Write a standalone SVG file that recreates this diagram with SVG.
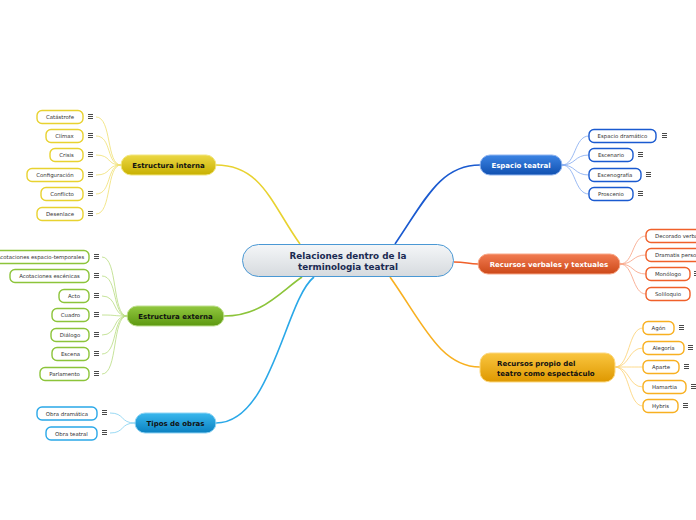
<svg xmlns="http://www.w3.org/2000/svg" width="696" height="520" viewBox="0 0 696 520">
<style>
.mt{font-family:"DejaVu Sans",Verdana,sans-serif;font-weight:bold;font-size:7px;text-anchor:middle}
.mtl{font-family:"DejaVu Sans",Verdana,sans-serif;font-weight:bold;font-size:7px;text-anchor:start}
.cen{font-family:"DejaVu Sans",Verdana,sans-serif;font-weight:bold;font-size:8.8px;text-anchor:middle;fill:#1a2a52}
.ct{font-family:"DejaVu Sans",Verdana,sans-serif;font-size:5.4px;fill:#333;text-anchor:middle}
.ctl{font-family:"DejaVu Sans",Verdana,sans-serif;font-size:5.4px;fill:#333;text-anchor:start}
.ch{fill:#fff;stroke-width:1.4}
.ic{fill:#4a4a4a}
.cn{fill:none;stroke-width:0.8}
.mc{fill:none;stroke-width:1.6}
.y{stroke:#e8d230}.g{stroke:#8cc43a}.lb{stroke:#2aa8e8}.db{stroke:#1a5ad0}.r{stroke:#f0602a}.o{stroke:#f8b020}
.yl{stroke:#f0e070}.gl{stroke:#b8dc80}.lbl{stroke:#80cff0}.dbl{stroke:#80a8f0}.rl{stroke:#f8a080}.ol{stroke:#fcd070}
</style>
<defs>
<linearGradient id="gc" x1="0" y1="0" x2="0" y2="1"><stop offset="0" stop-color="#f4f6f8"/><stop offset="1" stop-color="#d6dade"/></linearGradient>
<linearGradient id="gy" x1="0" y1="0" x2="0" y2="1"><stop offset="0" stop-color="#ecd845"/><stop offset="1" stop-color="#c8b000"/></linearGradient>
<linearGradient id="gg" x1="0" y1="0" x2="0" y2="1"><stop offset="0" stop-color="#92c840"/><stop offset="1" stop-color="#5c9810"/></linearGradient>
<linearGradient id="glb" x1="0" y1="0" x2="0" y2="1"><stop offset="0" stop-color="#3ab8ee"/><stop offset="1" stop-color="#0a80c0"/></linearGradient>
<linearGradient id="gdb" x1="0" y1="0" x2="0" y2="1"><stop offset="0" stop-color="#3c84e4"/><stop offset="1" stop-color="#1050b0"/></linearGradient>
<linearGradient id="gr" x1="0" y1="0" x2="0" y2="1"><stop offset="0" stop-color="#f27c52"/><stop offset="1" stop-color="#cc4818"/></linearGradient>
<linearGradient id="go" x1="0" y1="0" x2="0" y2="1"><stop offset="0" stop-color="#fac640"/><stop offset="1" stop-color="#de9800"/></linearGradient>
<g id="ico"><rect class="ic" x="0" y="-3" width="5" height="1"/><rect class="ic" x="0" y="-1" width="5" height="1"/><rect class="ic" x="0" y="1" width="5" height="1"/></g>
</defs>
<rect width="696" height="520" fill="#fff"/>

<g id="connectors">
<path class="mc y" d="M216,165 C262,165 272,205 300,244"/>
<path class="mc g" d="M224,316 C262,316 280,292 302,277"/>
<path class="mc lb" d="M216,423 C272,423 285,300 314,277"/>
<path class="mc db" d="M395,244 C425,200 440,165 480,165"/>
<path class="mc r" d="M454,262 C466,262 468,264 478,264"/>
<path class="mc o" d="M390,277 C422,322 440,367 480,367"/>
<path class="cn yl" d="M96,117 C112,117 106,165 121,165"/>
<path class="cn yl" d="M96,136 C112,136 106,165 121,165"/>
<path class="cn yl" d="M96,155 C112,155 106,165 121,165"/>
<path class="cn yl" d="M96,175 C112,175 106,165 121,165"/>
<path class="cn yl" d="M96,194 C112,194 106,165 121,165"/>
<path class="cn yl" d="M96,214 C112,214 106,165 121,165"/>
<path class="cn gl" d="M102,257 C118,257 112,316 127,316"/>
<path class="cn gl" d="M102,276 C118,276 112,316 127,316"/>
<path class="cn gl" d="M102,296 C118,296 112,316 127,316"/>
<path class="cn gl" d="M102,315 C118,315 112,316 127,316"/>
<path class="cn gl" d="M102,335 C118,335 112,316 127,316"/>
<path class="cn gl" d="M102,354 C118,354 112,316 127,316"/>
<path class="cn gl" d="M102,374 C118,374 112,316 127,316"/>
<path class="cn lbl" d="M110,413 C125,413 120,423 135,423"/>
<path class="cn lbl" d="M110,433 C125,433 120,423 135,423"/>
<path class="cn dbl" d="M562,165 C576,165 574,136 589,136"/>
<path class="cn dbl" d="M562,165 C576,165 574,155 589,155"/>
<path class="cn dbl" d="M562,165 C576,165 574,175 589,175"/>
<path class="cn dbl" d="M562,165 C576,165 574,194 589,194"/>
<path class="cn rl" d="M620,264 C634,264 632,236 646,236"/>
<path class="cn rl" d="M620,264 C634,264 632,255 646,255"/>
<path class="cn rl" d="M620,264 C634,264 632,274 646,274"/>
<path class="cn rl" d="M620,264 C634,264 632,294 646,294"/>
<path class="cn ol" d="M615,367 C630,367 628,328 643,328"/>
<path class="cn ol" d="M615,367 C630,367 628,348 643,348"/>
<path class="cn ol" d="M615,367 C630,367 628,367 643,367"/>
<path class="cn ol" d="M615,367 C630,367 628,387 643,387"/>
<path class="cn ol" d="M615,367 C630,367 628,406 643,406"/>
</g>

<g id="center">
<rect x="242.5" y="244.5" width="211" height="32" rx="16" fill="url(#gc)" stroke="#4a98d4" stroke-width="1"/>
<text class="cen" x="348" y="258.5">Relaciones dentro de la</text>
<text class="cen" x="348" y="269.5">terminologia teatral</text>
</g>

<g id="estructura-interna">
<rect x="121" y="155" width="95" height="20" rx="10" fill="url(#gy)" stroke="#f2e680" stroke-width="1"/>
<text class="mt" x="168.5" y="167.5" fill="#111">Estructura interna</text>
</g>
<g id="ei-catastrofe"><rect class="ch y" x="37" y="110.5" width="46" height="13" rx="5"/><text class="ct" x="60" y="119">Catástrofe</text><use href="#ico" x="88" y="117"/></g>
<g id="ei-climax"><rect class="ch y" x="46" y="129.5" width="37" height="13" rx="5"/><text class="ct" x="64.5" y="138">Clímax</text><use href="#ico" x="88" y="136"/></g>
<g id="ei-crisis"><rect class="ch y" x="50" y="148.5" width="33" height="13" rx="5"/><text class="ct" x="66.5" y="157">Crisis</text><use href="#ico" x="88" y="155"/></g>
<g id="ei-configuracion"><rect class="ch y" x="27" y="168.5" width="56" height="13" rx="5"/><text class="ct" x="55" y="177">Configuración</text><use href="#ico" x="88" y="175"/></g>
<g id="ei-conflicto"><rect class="ch y" x="41" y="187.5" width="42" height="13" rx="5"/><text class="ct" x="62" y="196">Conflicto</text><use href="#ico" x="88" y="194"/></g>
<g id="ei-desenlace"><rect class="ch y" x="37" y="207.5" width="46" height="13" rx="5"/><text class="ct" x="60" y="216">Desenlace</text><use href="#ico" x="88" y="214"/></g>

<g id="estructura-externa">
<rect x="127" y="306" width="97" height="20" rx="10" fill="url(#gg)" stroke="#c0e090" stroke-width="1"/>
<text class="mt" x="175.5" y="318.5" fill="#111">Estructura externa</text>
</g>
<g id="ee-acot-et"><rect class="ch g" x="-8" y="250.5" width="97" height="13" rx="5"/><text class="ct" x="40.5" y="259">Acotaciones espacio-temporales</text><use href="#ico" x="94" y="257"/></g>
<g id="ee-acot-esc"><rect class="ch g" x="10" y="269.5" width="79" height="13" rx="5"/><text class="ct" x="49.5" y="278">Acotaciones escénicas</text><use href="#ico" x="94" y="276"/></g>
<g id="ee-acto"><rect class="ch g" x="59" y="289.5" width="30" height="13" rx="5"/><text class="ct" x="74" y="298">Acto</text><use href="#ico" x="94" y="296"/></g>
<g id="ee-cuadro"><rect class="ch g" x="52" y="308.5" width="37" height="13" rx="5"/><text class="ct" x="70.5" y="317">Cuadro</text><use href="#ico" x="94" y="315"/></g>
<g id="ee-dialogo"><rect class="ch g" x="51" y="328.5" width="38" height="13" rx="5"/><text class="ct" x="70" y="337">Diálogo</text><use href="#ico" x="94" y="335"/></g>
<g id="ee-escena"><rect class="ch g" x="52" y="347.5" width="37" height="13" rx="5"/><text class="ct" x="70.5" y="356">Escena</text><use href="#ico" x="94" y="354"/></g>
<g id="ee-parlamento"><rect class="ch g" x="40" y="367.5" width="49" height="13" rx="5"/><text class="ct" x="64.5" y="376">Parlamento</text><use href="#ico" x="94" y="374"/></g>

<g id="tipos-de-obras">
<rect x="135" y="413" width="81" height="20" rx="10" fill="url(#glb)" stroke="#90d4f4" stroke-width="1"/>
<text class="mt" x="175.5" y="425.5" fill="#111">Tipos de obras</text>
</g>
<g id="to-dramatica"><rect class="ch lb" x="37" y="407" width="60" height="13" rx="5"/><text class="ct" x="67" y="415.5">Obra dramática</text><use href="#ico" x="102" y="413"/></g>
<g id="to-teatral"><rect class="ch lb" x="46" y="427" width="51" height="13" rx="5"/><text class="ct" x="71.5" y="435.5">Obra teatral</text><use href="#ico" x="102" y="433"/></g>

<g id="espacio-teatral">
<rect x="480" y="155" width="82" height="20" rx="10" fill="url(#gdb)" stroke="#90b4f0" stroke-width="1"/>
<text class="mt" x="521" y="167.5" fill="#fff">Espacio teatral</text>
</g>
<g id="et-dramatico"><rect class="ch db" x="589" y="129.5" width="67" height="13" rx="5"/><text class="ct" x="622.5" y="138">Espacio dramático</text><use href="#ico" x="662" y="136"/></g>
<g id="et-escenario"><rect class="ch db" x="589" y="148.5" width="44" height="13" rx="5"/><text class="ct" x="611" y="157">Escenario</text><use href="#ico" x="638" y="155"/></g>
<g id="et-escenografia"><rect class="ch db" x="589" y="168.5" width="52" height="13" rx="5"/><text class="ct" x="615" y="177">Escenografía</text><use href="#ico" x="646" y="175"/></g>
<g id="et-proscenio"><rect class="ch db" x="589" y="187.5" width="44" height="13" rx="5"/><text class="ct" x="611" y="196">Proscenio</text><use href="#ico" x="638" y="194"/></g>

<g id="recursos-verbales">
<rect x="478" y="254" width="142" height="20" rx="10" fill="url(#gr)" stroke="#f8a888" stroke-width="1"/>
<text class="mt" x="549" y="266.5" fill="#fff">Recursos verbales y textuales</text>
</g>
<g id="rv-decorado"><rect class="ch r" x="646" y="229.5" width="60" height="13" rx="5"/><text class="ctl" x="655" y="238">Decorado verbal</text></g>
<g id="rv-dramatis"><rect class="ch r" x="646" y="248.5" width="70" height="13" rx="5"/><text class="ctl" x="655" y="257">Dramatis personae</text></g>
<g id="rv-monologo"><rect class="ch r" x="646" y="267.5" width="44" height="13" rx="5"/><text class="ct" x="668" y="276">Monólogo</text><use href="#ico" x="694" y="274"/></g>
<g id="rv-soliloquio"><rect class="ch r" x="646" y="287.5" width="44" height="13" rx="5"/><text class="ct" x="668" y="296">Soliloquio</text></g>

<g id="recursos-propio">
<rect x="480" y="353" width="135" height="29" rx="10" fill="url(#go)" stroke="#fcd880" stroke-width="1"/>
<text class="mtl" x="497" y="366" fill="#111">Recursos propio del</text>
<text class="mtl" x="497" y="376" fill="#111">teatro como espectáculo</text>
</g>
<g id="rp-agon"><rect class="ch o" x="643" y="321.5" width="31" height="13" rx="5"/><text class="ct" x="658.5" y="330">Agón</text><use href="#ico" x="679" y="328"/></g>
<g id="rp-alegoria"><rect class="ch o" x="643" y="341.5" width="41" height="13" rx="5"/><text class="ct" x="663.5" y="350">Alegoría</text><use href="#ico" x="688" y="348"/></g>
<g id="rp-aparte"><rect class="ch o" x="643" y="360.5" width="36" height="13" rx="5"/><text class="ct" x="661" y="369">Aparte</text><use href="#ico" x="684" y="367"/></g>
<g id="rp-hamartia"><rect class="ch o" x="643" y="380.5" width="43" height="13" rx="5"/><text class="ct" x="664.5" y="389">Hamartia</text><use href="#ico" x="691" y="387"/></g>
<g id="rp-hybris"><rect class="ch o" x="643" y="399.5" width="35" height="13" rx="5"/><text class="ct" x="660.5" y="408">Hybris</text><use href="#ico" x="683" y="406"/></g>
</svg>
